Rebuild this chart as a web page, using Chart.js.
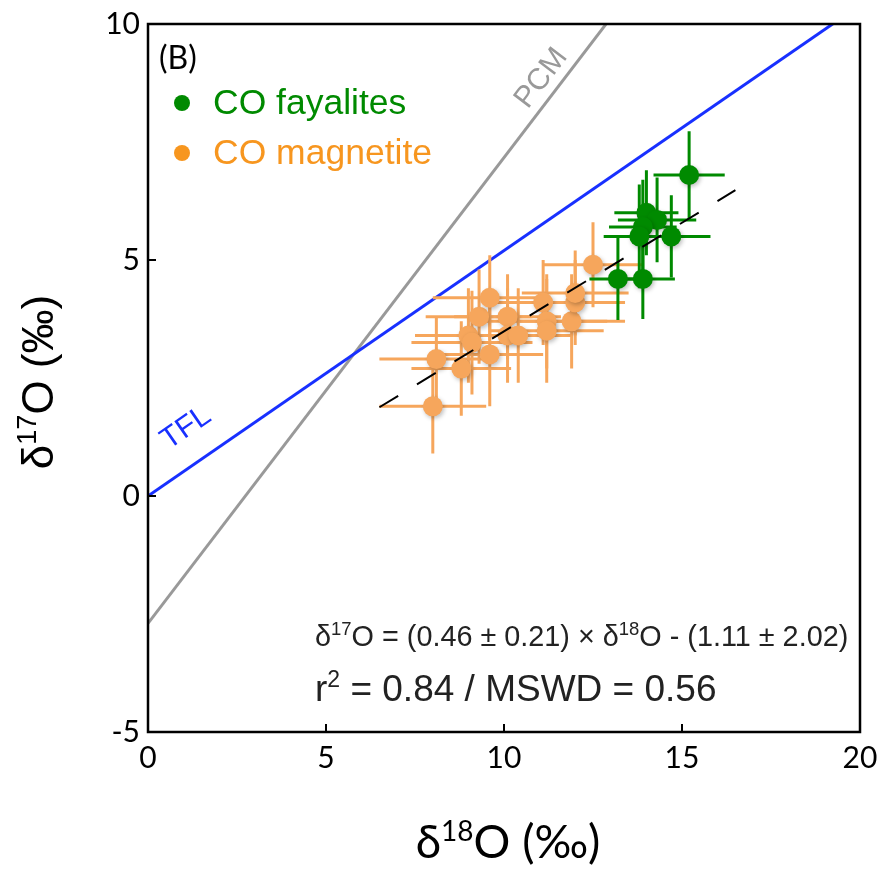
<!DOCTYPE html>
<html><head><meta charset="utf-8">
<script src="https://cdn.jsdelivr.net/npm/chart.js@4"></script>
<style>html,body{margin:0;padding:0;background:#fff}</style>
</head><body>
<canvas id="c" width="881" height="878"></canvas>
<script>
// ---- data ----
const xTickValues = [0, 5, 10, 15, 20];
const yTickValues = [-5, 0, 5, 10];

const fayD18    = [15.2, 14.0, 14.3, 13.9, 13.8, 14.7, 13.2, 13.9];
const fayD17    = [6.8, 6.0, 5.85, 5.7, 5.5, 5.5, 4.6, 4.6];
const fayD18Err = [1.0, 0.9, 1.1, 0.95, 1.0, 1.1, 0.8, 0.9];
const fayD17Err = [0.93, 0.9, 0.9, 1.0, 1.1, 0.87, 0.87, 0.85];

const magD18    = [8.0, 8.1, 8.8, 9.0, 9.1, 9.3, 9.6, 9.6, 10.1, 10.1, 10.4, 11.1, 11.2, 11.2, 11.9, 12.0, 12.0, 12.5];
const magD17    = [1.9, 2.9, 2.7, 3.4, 3.25, 3.8, 3.0, 4.2, 3.8, 3.4, 3.4, 4.1, 3.7, 3.5, 3.7, 4.1, 4.3, 4.9];
const magD18Err = [1.5, 1.6, 1.4, 1.5, 1.7, 1.5, 1.5, 1.6, 1.5, 1.4, 1.5, 1.5, 1.7, 1.6, 1.5, 1.4, 1.5, 1.4];
const magD17Err = [1.0, 0.9, 1.0, 1.0, 1.1, 1.0, 1.1, 0.9, 0.9, 1.0, 1.0, 0.9, 1.0, 1.1, 1.0, 0.9, 0.9, 0.9];

const tflLine = [[0, 0], [20, 10.4]];
const pcmLine = [[0, -2.70], [20, 17.04]];
const fitLine = [[6.5, 1.88], [16.5, 6.48]];

const seriesNames = ['CO fayalites', 'CO magnetite'];
const eqParts = ['δ', '17', 'O = (0.46 ± 0.21) × δ', '18', 'O - (1.11 ± 2.02)'];
const statParts = ['r', '2', ' = 0.84 / MSWD = 0.56'];

// ---- colours ----
const GREEN = '#008a00';
const ORANGE = '#f6a65c';
const ORANGE_TXT = '#f7961f';
const BLUE = '#1830ff';
const GREY = '#999999';

const pts = (xs, ys) => xs.map((x, i) => ({ x, y: ys[i] }));
const seg = arr => arr.map(([x, y]) => ({ x, y }));

const errorBars = {
  id: 'errorBars',
  beforeDatasetDraw(chart, args) {
    const ds = chart.data.datasets[args.index];
    if (!ds.xErr) return;
    const { ctx, scales: { x, y } } = chart;
    ctx.save();
    ctx.strokeStyle = ds.barColor;
    ctx.lineWidth = 3;
    ds.data.forEach((p, i) => {
      const px = x.getPixelForValue(p.x), py = y.getPixelForValue(p.y);
      ctx.beginPath();
      ctx.moveTo(x.getPixelForValue(p.x - ds.xErr[i]), py);
      ctx.lineTo(x.getPixelForValue(p.x + ds.xErr[i]), py);
      ctx.moveTo(px, y.getPixelForValue(p.y - ds.yErr[i]));
      ctx.lineTo(px, y.getPixelForValue(p.y + ds.yErr[i]));
      ctx.stroke();
    });
    ctx.restore();
    ctx.save();
    ctx.shadowColor = 'rgba(0,0,0,0.25)';
    ctx.shadowBlur = 4;
    ctx.shadowOffsetX = 1.5;
    ctx.shadowOffsetY = 2;
  },
  afterDatasetDraw(chart, args) {
    const ds = chart.data.datasets[args.index];
    if (!ds.xErr) return;
    chart.ctx.restore();
  }
};

function drawRich(ctx, parts, family, size, supSize, supRise, x, y, align) {
  let w = 0;
  parts.forEach((t, i) => {
    ctx.font = (i % 2 ? supSize : size) + 'px ' + family;
    w += ctx.measureText(t).width;
  });
  let cx = align === 'center' ? x - w / 2 : x;
  ctx.textAlign = 'left';
  ctx.textBaseline = 'alphabetic';
  parts.forEach((t, i) => {
    ctx.font = (i % 2 ? supSize : size) + 'px ' + family;
    ctx.fillText(t, cx, i % 2 ? y - supRise : y);
    cx += ctx.measureText(t).width;
  });
}

const decor = {
  id: 'decor',
  afterDraw(chart) {
    const { ctx, chartArea: a, scales: { x, y } } = chart;
    ctx.save();
    ctx.strokeStyle = '#000';
    ctx.lineWidth = 2.5;
    ctx.strokeRect(a.left, a.top, a.right - a.left, a.bottom - a.top);
    ctx.lineWidth = 2;
    ctx.beginPath();
    xTickValues.slice(1, -1).forEach(v => {
      const px = x.getPixelForValue(v);
      ctx.moveTo(px, a.bottom); ctx.lineTo(px, a.bottom - 8);
    });
    yTickValues.slice(1, -1).forEach(v => {
      const py = y.getPixelForValue(v);
      ctx.moveTo(a.left, py); ctx.lineTo(a.left + 8, py);
    });
    ctx.stroke();

    ctx.fillStyle = '#000';
    ctx.font = '32px Lato';
    ctx.textBaseline = 'alphabetic';
    ctx.textAlign = 'left';
    ctx.fillText('(B)', a.left + 11, 69);

    const legend = [[seriesNames[0], GREEN, 103], [seriesNames[1], ORANGE_TXT, 153]];
    legend.forEach(([t, col, cy]) => {
      ctx.fillStyle = col;
      ctx.beginPath(); ctx.arc(182, cy, 8, 0, Math.PI * 2); ctx.fill();
      ctx.font = '35.5px "Liberation Sans"';
      ctx.textBaseline = 'middle';
      ctx.fillText(t, 213, cy + 1);
    });

    ctx.textAlign = 'center';
    ctx.textBaseline = 'middle';
    ctx.font = '30px "Liberation Sans"';
    ctx.save();
    ctx.translate(x.getPixelForValue(1.07), y.getPixelForValue(1.44));
    ctx.rotate(-Math.atan(0.52 * (y.height / 15) / (x.width / 20)));
    ctx.fillStyle = BLUE;
    ctx.fillText('TFL', 0, 0);
    ctx.restore();
    ctx.save();
    ctx.translate(x.getPixelForValue(11.05), y.getPixelForValue(8.85));
    ctx.rotate(-Math.atan(0.987 * (y.height / 15) / (x.width / 20)));
    ctx.fillStyle = GREY;
    ctx.fillText('PCM', 0, 0);
    ctx.restore();

    ctx.fillStyle = '#222';
    drawRich(ctx, eqParts, '"Liberation Sans"', 28.8, 18.5, 11, 315, 646, 'left');
    drawRich(ctx, statParts, '"Liberation Sans"', 37, 23, 14, 315, 701, 'left');

    ctx.fillStyle = '#000';
    drawRich(ctx, ['δ', '18', 'O (‰)'], 'Lato', 46, 28, 17, (a.left + a.right) / 2 + 4, 858, 'center');
    ctx.save();
    ctx.translate(53, 382);
    ctx.rotate(-Math.PI / 2);
    drawRich(ctx, ['δ', '17', 'O (‰)'], '"Liberation Sans"', 44, 27, 17, 0, 0, 'center');
    ctx.restore();
    ctx.restore();
  }
};

new Chart(document.getElementById('c'), {
  type: 'scatter',
  data: {
    datasets: [
      { type: 'line', label: 'fit', data: seg(fitLine), borderColor: '#000', borderWidth: 2,
        borderDash: [22, 22], pointRadius: 0, fill: false, order: 0 },
      { label: seriesNames[0], data: pts(fayD18, fayD17), xErr: fayD18Err, yErr: fayD17Err,
        backgroundColor: GREEN, barColor: GREEN, pointRadius: 10, pointHoverRadius: 10, borderWidth: 0, order: 1 },
      { label: seriesNames[1], data: pts(magD18, magD17), xErr: magD18Err, yErr: magD17Err,
        backgroundColor: ORANGE, barColor: ORANGE, pointRadius: 10, pointHoverRadius: 10, borderWidth: 0, order: 2 },
      { type: 'line', label: 'TFL', data: seg(tflLine), borderColor: BLUE, borderWidth: 3,
        pointRadius: 0, fill: false, order: 3 },
      { type: 'line', label: 'PCM', data: seg(pcmLine), borderColor: GREY, borderWidth: 3,
        pointRadius: 0, fill: false, order: 4 }
    ]
  },
  options: {
    responsive: false,
    animation: false,
    devicePixelRatio: 1,
    layout: { padding: { left: 0, top: 24, right: 21, bottom: 0 } },
    plugins: { legend: { display: false }, tooltip: { enabled: false } },
    scales: {
      x: {
        type: 'linear', min: 0, max: 20,
        afterFit: s => { s.height = 146; s.paddingLeft = 0; s.paddingRight = 0; },
        afterBuildTicks: s => { s.ticks = xTickValues.map(v => ({ value: v })); },
        ticks: { font: { family: 'Lato', size: 30 }, color: '#000', padding: 8, maxRotation: 0 },
        grid: { display: false, drawTicks: false },
        border: { display: false }
      },
      y: {
        type: 'linear', min: -5, max: 10,
        afterFit: s => { s.width = 148; s.paddingTop = 0; s.paddingBottom = 0; },
        afterBuildTicks: s => { s.ticks = yTickValues.map(v => ({ value: v })); },
        ticks: { font: { family: 'Lato', size: 30 }, color: '#000', padding: 8 },
        grid: { display: false, drawTicks: false },
        border: { display: false }
      }
    }
  },
  plugins: [errorBars, decor]
});
</script>
</body></html>
